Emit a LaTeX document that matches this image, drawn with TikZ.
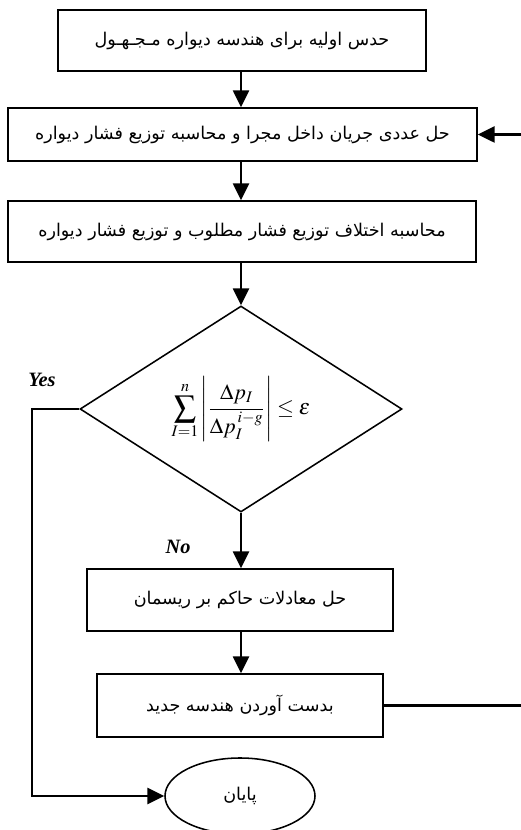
\documentclass[tikz,border=0pt]{standalone}
\usepackage{amsmath}
\usepackage{amssymb}
\usepackage{mathptmx}
\usepackage{fontspec}
\setmainfont{Liberation Serif}
\newfontfamily\farsifont[Script=Arabic]{DejaVu Sans}
\TeXXeTstate=1
\usepackage{tikz}
\usetikzlibrary{calc,arrows.meta,shapes.geometric}

\newcommand{\fa}[1]{{\farsifont\beginR #1\endR}}

\tikzset{
  procbox/.style={draw, line width=1.1pt, rectangle, inner sep=0pt,
    minimum height=1.525cm, font=\fontsize{12.5}{15}\selectfont},
  testbox/.style={draw, line width=1.1pt, diamond, inner sep=0pt,
    minimum width=8.05cm, minimum height=5.15cm, font=\fontsize{15.5}{18}\selectfont},
  stopbox/.style={draw, line width=1.1pt, ellipse, inner sep=0pt,
    minimum width=3.75cm, minimum height=1.9cm, font=\fontsize{12.5}{15}\selectfont},
  flowline/.style={line width=1.5pt},
  flowarrow/.style={line width=1.5pt, -{Triangle[length=0.42cm,width=0.4cm]}},
  answer/.style={font=\fontsize{14.5}{17}\selectfont\bfseries\itshape}
}

\begin{document}
\begin{tikzpicture}

\useasboundingbox (0,0) rectangle (13.025,20.75);

\node[procbox, minimum width=9.2cm] (b1) at (6.05,19.7375)
    {\fa{حدس اولیه برای هندسه دیواره مـجـهـول}};
\node[procbox, minimum width=11.725cm, minimum height=1.325cm] (b2) at (6.0625,17.3875)
    {\fa{حل عددی جریان داخل مجرا و محاسبه توزیع فشار دیواره}};
\node[procbox, minimum width=11.7cm] (b3) at (6.05,14.9625)
    {\fa{محاسبه اختلاف توزیع فشار مطلوب و توزیع فشار دیواره}};

\node[testbox] (d) at (6.025,10.525)
    {$\displaystyle\sum_{I=1}^{n}\left|\frac{\Delta p_I}{\Delta p_I^{\,i-g}}\right|\le\varepsilon$};

\node[procbox, minimum width=7.65cm, minimum height=1.55cm] (b4) at (6.0,5.75)
    {\fa{حل معادلات حاکم بر ریسمان}};
\node[procbox, minimum width=7.15cm, minimum height=1.575cm] (b5) at (6.0,3.1125)
    {\fa{بدست آوردن هندسه جدید}};
\node[stopbox] (end) at (6.0,0.85) {\fa{پایان}};

\node[answer] (yes) at (1.05,11.25) {Yes};
\node[answer] (no) at (4.45,7.075) {No};

% main column
\foreach \a/\b in {b1/b2,b2/b3,b3/d,d/b4,b4/b5}
    \draw[flowarrow] (\a.south -| d.north) -- (\b.north -| d.north);

% yes branch
\coordinate (yesx) at (0.8,0);
\draw[flowarrow] (d.west) -- (d.west -| yesx) -- (end.west -| yesx) -- (end.west);

% back to the flow solver
\coordinate (backx) at (13.2,0);
\draw[flowline] (b5.east) -- (b5.east -| backx);
\draw[flowarrow] (b2.east -| backx) -- (b2.east);

\end{tikzpicture}
\end{document}
